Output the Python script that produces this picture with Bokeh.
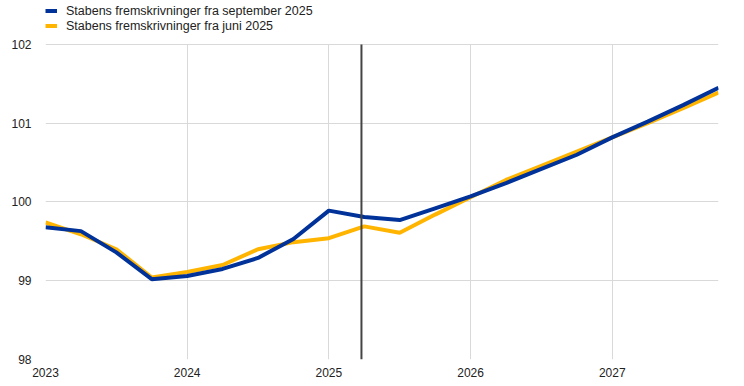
from bokeh.plotting import figure
from bokeh.models import Legend, LegendItem, FixedTicker, ColumnDataSource
from bokeh.embed import file_html
from bokeh.resources import INLINE

quarters = [2023.0, 2023.25, 2023.5, 2023.75, 2024.0, 2024.25, 2024.5, 2024.75,
            2025.0, 2025.25, 2025.5, 2025.75, 2026.0, 2026.25, 2026.5, 2026.75,
            2027.0, 2027.25, 2027.5, 2027.75]
sep_2025 = [99.68, 99.63, 99.36, 99.02, 99.06, 99.15, 99.29, 99.53,
            99.89, 99.81, 99.77, 99.92, 100.07, 100.24, 100.42, 100.60,
            100.82, 101.02, 101.23, 101.45]
jun_2025 = [99.74, 99.59, 99.40, 99.04, 99.11, 99.20, 99.40, 99.49,
            99.54, 99.69, 99.61, 99.84, 100.06, 100.28, 100.46, 100.64,
            100.82, 101.00, 101.19, 101.39]
label_sep = "Stabens fremskrivninger fra september 2025"
label_jun = "Stabens fremskrivninger fra juni 2025"
x_ticks = [2023, 2024, 2025, 2026, 2027]
y_ticks = [98, 99, 100, 101, 102]
marker_x = 2025.23

BLUE = "#003299"
YELLOW = "#FFB400"
FONT = "Liberation Sans"

p = figure(output_backend="svg", toolbar_location=None,
           frame_width=673, frame_height=357,
           x_range=(2023, 2027.75), y_range=(98, 102.533),
           min_border_left=45, min_border_right=18,
           min_border_top=2, min_border_bottom=22)
p.outline_line_color = None
p.background_fill_color = "white"
p.border_fill_color = "white"

src = ColumnDataSource(dict(x=quarters, sep=sep_2025, jun=jun_2025))
r_jun = p.line("x", "jun", source=src, line_color=YELLOW, line_width=4)
r_sep = p.line("x", "sep", source=src, line_color=BLUE, line_width=4)

p.segment(x0=[marker_x], y0=[y_ticks[0]], x1=[marker_x], y1=[y_ticks[-1]],
          line_color="#444444", line_width=2)

for ax in (p.xaxis[0], p.yaxis[0]):
    ax.axis_line_color = None
    ax.major_tick_line_color = None
    ax.minor_tick_line_color = None
    ax.major_label_text_font = FONT
    ax.major_label_text_font_size = "12px"
    ax.major_label_text_color = "#222222"
p.xaxis[0].ticker = FixedTicker(ticks=x_ticks)
p.yaxis[0].ticker = FixedTicker(ticks=y_ticks)
p.xaxis[0].major_label_standoff = 2
p.yaxis[0].major_label_standoff = 8

p.xgrid[0].ticker = FixedTicker(ticks=x_ticks)
p.ygrid[0].ticker = FixedTicker(ticks=y_ticks)
p.xgrid[0].grid_line_color = "#d9d9d9"
p.ygrid[0].grid_line_color = "#d9d9d9"
p.xgrid[0].cross_bounds = (y_ticks[0], y_ticks[-1])

legend = Legend(items=[LegendItem(label=label_sep, renderers=[r_sep]),
                       LegendItem(label=label_jun, renderers=[r_jun])],
                location=(0, 326), orientation="vertical",
                glyph_width=12, glyph_height=15, label_height=15,
                label_standoff=9, spacing=0, padding=0, margin=0,
                label_text_font=FONT, label_text_font_size="12.5px",
                label_text_color="#222222",
                background_fill_alpha=0, border_line_color=None)
p.add_layout(legend, "center")

open("out.html", "w").write(file_html(p, INLINE))
